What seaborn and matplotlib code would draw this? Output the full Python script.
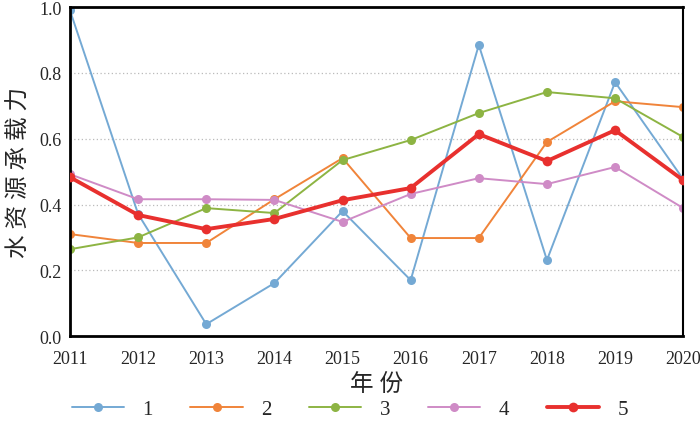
import matplotlib
matplotlib.use("Agg")
import matplotlib.pyplot as plt
import pandas as pd
import seaborn as sns

# data
years = [2011, 2012, 2013, 2014, 2015, 2016, 2017, 2018, 2019, 2020]
s1 = [0.99, 0.371, 0.036, 0.161, 0.380, 0.170, 0.885, 0.231, 0.772, 0.477]
s2 = [0.310, 0.283, 0.283, 0.416, 0.541, 0.298, 0.298, 0.590, 0.714, 0.696]
s3 = [0.264, 0.300, 0.389, 0.374, 0.535, 0.596, 0.678, 0.742, 0.723, 0.605]
s4 = [0.492, 0.416, 0.416, 0.414, 0.347, 0.432, 0.480, 0.462, 0.514, 0.389]
s5 = [0.483, 0.368, 0.325, 0.356, 0.413, 0.450, 0.614, 0.532, 0.626, 0.474]
names = ["1", "2", "3", "4", "5"]

df = pd.DataFrame({"year": years, "1": s1, "2": s2, "3": s3, "4": s4, "5": s5})
df_long = df.melt(id_vars="year", var_name="series", value_name="value")

sns.set_style("white")
plt.rcParams['font.family'] = ['Liberation Serif', 'Noto Sans CJK SC']

colors = {"1": "#74a9d4", "2": "#f0843a", "3": "#8db443", "4": "#cf8bc6", "5": "#e8302e"}
widths = {"1": 1.4, "2": 1.4, "3": 1.4, "4": 1.4, "5": 2.8}

fig, ax = plt.subplots(figsize=(7, 4.31), dpi=100)
fig.subplots_adjust(left=0.1, right=0.976, top=0.981, bottom=0.218)

for name in names:
    d = df_long[df_long["series"] == name]
    sns.lineplot(data=d, x="year", y="value", ax=ax, color=colors[name],
                 linewidth=widths[name], marker="o", markersize=6.5 if name != "5" else 7,
                 markeredgewidth=0, label=name, zorder=3 if name == "5" else 2)

ax.set_xlim(2011, 2020)
ax.set_ylim(0, 1.0)
ax.set_xticks(years)
ax.set_yticks([0.0, 0.2, 0.4, 0.6, 0.8, 1.0])
ax.set_yticklabels(["0.0", "0.2", "0.4", "0.6", "0.8", "1.0"])
ax.yaxis.grid(True, linestyle=(0, (1, 2)), color="#bbbbbb", linewidth=0.9)
ax.tick_params(axis="x", direction="in", length=5, width=1, labelsize=13, pad=10)
ax.tick_params(axis="y", length=0, labelsize=13, pad=6)
for side in ["left", "bottom", "top"]:
    ax.spines[side].set_linewidth(2)
    ax.spines[side].set_color("black")
ax.spines["right"].set_linewidth(1.5)
ax.spines["right"].set_color("black")

ax.set_xlabel("年 份", fontsize=17, labelpad=4)
ax.set_ylabel("水 资 源 承 载 力", fontsize=17, labelpad=6)

handles, labels = ax.get_legend_handles_labels()
ax.legend_.remove()
fig.legend(handles, labels, loc="center", bbox_to_anchor=(0.5, 0.048), ncol=5, frameon=False,
           fontsize=15, handlelength=2.5, columnspacing=1.8, handletextpad=0.9,
           borderaxespad=0)

fig.savefig("out.png", dpi=100)
